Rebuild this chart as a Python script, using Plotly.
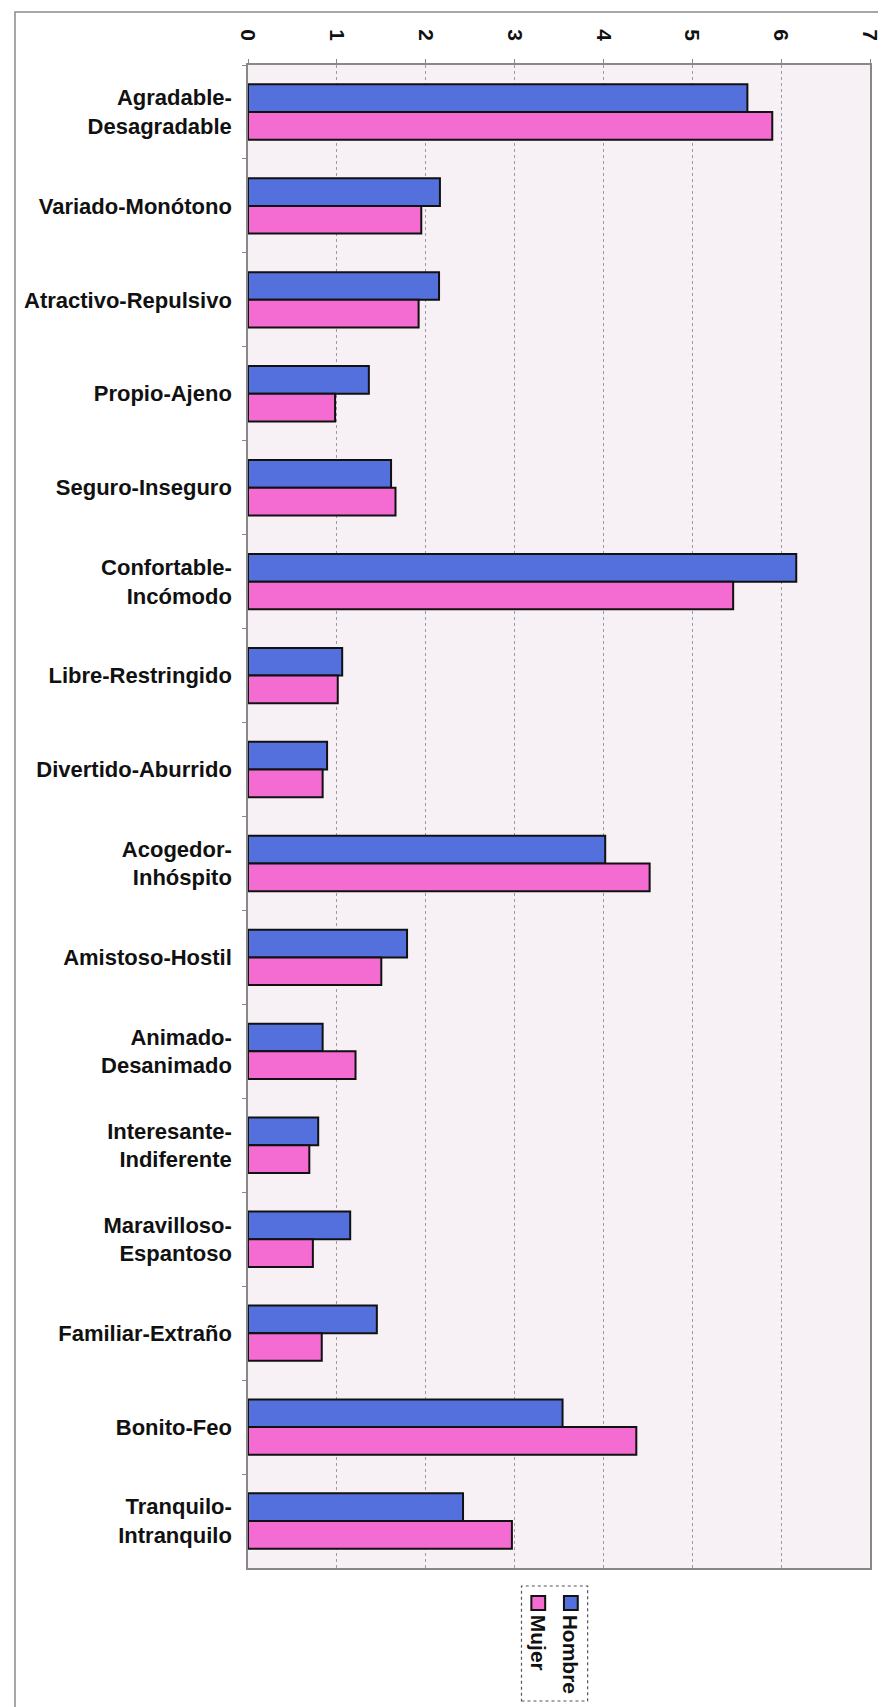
import plotly.graph_objects as go

# pares de adjetivos (de arriba a abajo)
categorias = [
    "Agradable-<br>Desagradable",
    "Variado-Monótono",
    "Atractivo-Repulsivo",
    "Propio-Ajeno",
    "Seguro-Inseguro",
    "Confortable-<br>Incómodo",
    "Libre-Restringido",
    "Divertido-Aburrido",
    "Acogedor-<br>Inhóspito",
    "Amistoso-Hostil",
    "Animado-<br>Desanimado",
    "Interesante-<br>Indiferente",
    "Maravilloso-<br>Espantoso",
    "Familiar-Extraño",
    "Bonito-Feo",
    "Tranquilo-<br>Intranquilo",
]
hombre = [5.62, 2.16, 2.15, 1.36, 1.61, 6.17, 1.06, 0.89, 4.02, 1.79, 0.84, 0.79, 1.15, 1.45, 3.54, 2.42]
mujer = [5.90, 1.95, 1.92, 0.98, 1.66, 5.46, 1.01, 0.84, 4.52, 1.50, 1.21, 0.69, 0.73, 0.83, 4.37, 2.97]
series = ["Hombre", "Mujer"]
ticks_x = [0, 1, 2, 3, 4, 5, 6, 7]

azul = "#5470dc"
rosa = "#f46cd2"

W, H = 886, 1707
L, R, T, B = 240, 16, 57, 147
pw, ph = W - L - R, H - T - B


def px(x):
    return (x - L) / pw


def py(y):
    return (H - B - y) / ph


fig = go.Figure()
fig.add_trace(go.Bar(y=categorias, x=hombre, name=series[0], orientation="h",
                     marker=dict(color=azul, line=dict(color="#111111", width=2))))
fig.add_trace(go.Bar(y=categorias, x=mujer, name=series[1], orientation="h",
                     marker=dict(color=rosa, line=dict(color="#111111", width=2))))

# marco exterior
fig.add_shape(type="rect", xref="paper", yref="paper",
              x0=px(4), x1=px(895), y0=py(1703), y1=py(4),
              line=dict(color="#8a8a8a", width=1.5), layer="below")

# leyenda girada (dibujada a mano)
fig.add_shape(type="rect", xref="paper", yref="paper",
              x0=px(517), x1=px(584), y0=py(1693), y1=py(1578),
              line=dict(color="#555555", width=1.2, dash="dot"), fillcolor="white")
for xc, nombre, color in [(567, series[0], azul), (534, series[1], rosa)]:
    fig.add_shape(type="rect", xref="paper", yref="paper",
                  x0=px(xc - 7), x1=px(xc + 7), y0=py(1602), y1=py(1588),
                  line=dict(color="#111111", width=2), fillcolor=color)
    fig.add_annotation(x=px(xc), y=py(1605), xref="paper", yref="paper",
                       text="<b>" + nombre + "</b>", textangle=90, showarrow=False,
                       xanchor="center", yanchor="top",
                       font=dict(size=21, color="#111111", family="Liberation Sans, Arial"))

fig.update_layout(
    width=W, height=H,
    margin=dict(l=L, r=R, t=T, b=B, pad=0),
    barmode="group", bargap=0.41, bargroupgap=0,
    paper_bgcolor="white", plot_bgcolor="#f7f0f5",
    showlegend=False,
    font=dict(family="Liberation Sans, Arial", color="#111111"),
)
fig.update_xaxes(
    side="top", range=[0, 7], tickvals=ticks_x, tickangle=90,
    tickfont=dict(size=21, family="Liberation Sans, Arial", weight="bold"),
    showgrid=True, gridcolor="#9a9aaa", gridwidth=1, griddash="dot",
    showline=True, linecolor="#888888", linewidth=1.5, mirror=True,
    ticks="outside", ticklen=4, tickcolor="#888888", ticklabelstandoff=11,
    zeroline=False,
)
fig.update_yaxes(
    autorange="reversed", type="category",
    tickfont=dict(size=22, family="Liberation Sans, Arial", weight="bold"),
    showline=True, linecolor="#888888", linewidth=1.5, mirror=True,
    ticks="outside", tickson="boundaries", ticklen=4, tickcolor="#888888",
    ticklabelstandoff=10, showgrid=False,
)

fig.write_html("out.html")
